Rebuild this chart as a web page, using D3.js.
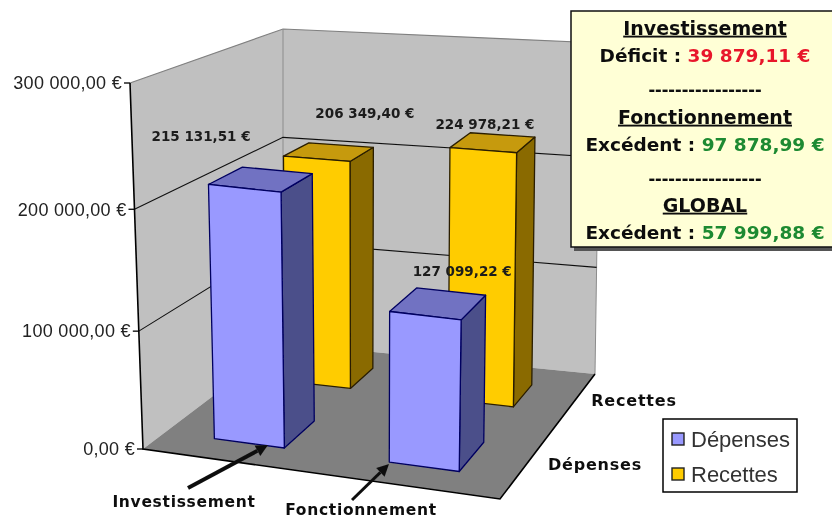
<!DOCTYPE html>
<html><head><meta charset="utf-8">
<script src="https://cdn.jsdelivr.net/npm/d3@7/dist/d3.min.js"></script>
<style>html,body{margin:0;padding:0;background:#fff}svg{display:block}</style>
</head><body><svg id="c" width="832" height="520"></svg>
<script>
const categories = ["Investissement", "Fonctionnement"];
const series = ["Dépenses", "Recettes"];
const depenses = [215131.51, 127099.22];
const recettes = [206349.40, 224978.21];
const axisTicks = [0, 100000, 200000, 300000];
const tickLabels = ["0,00 €", "100 000,00 €", "200 000,00 €", "300 000,00 €"];
const valueLabels = {"Dépenses": ["215 131,51 €", "127 099,22 €"], "Recettes": ["206 349,40 €", "224 978,21 €"]};
const summaryTitles = ["Investissement", "Fonctionnement", "GLOBAL"];
const summaryKinds = ["Déficit : ", "Excédent : ", "Excédent : "];
const summaryAmounts = ["39 879,11 €", "97 878,99 €", "57 999,88 €"];

const svg = d3.select("#c");
const defs = svg.append("defs");
defs.append("filter").attr("id", "soft").attr("x", 0).attr("y", 0).attr("width", 1).attr("height", 1)
  .append("feGaussianBlur").attr("stdDeviation", 0.45);
// cube corners [u][v][w]
const cube = {
  "000": [143, 449], "100": [500, 499], "010": [283, 343], "110": [595, 374],
  "001": [130, 83],  "101": [508, 122], "011": [283, 29],  "111": [600, 43]
};
const W = d3.scaleLinear().domain(axisTicks).range([0, .322, .655, 1]);
const U = d3.scaleBand().domain(categories).range([-.01, .99]).paddingInner(.6).paddingOuter(.3);
const Vb = d3.scaleBand().domain(series).range([0, 1]).paddingInner(.6).paddingOuter(.3);
const Vfix = d3.scaleLinear().domain([0, .15, .35, .65, .85, 1]).range([0, .16, .40, .69, .87, 1]);
function P(u, v, w) {
  const r = [0, 0];
  for (const a of [0, 1]) for (const b of [0, 1]) for (const c of [0, 1]) {
    const k = (a ? u : 1 - u) * (b ? v : 1 - v) * (c ? w : 1 - w);
    const p = cube["" + a + b + c];
    r[0] += k * p[0]; r[1] += k * p[1];
  }
  return r;
}
const line = d3.line();
const poly = pts => line(pts) + "Z";
const g = svg.append("g").attr("filter", "url(#soft)");
g.append("rect").attr("width", 832).attr("height", 520).attr("fill", "#fff");

// walls and floor
g.append("path").attr("d", poly([P(0,0,0), P(0,1,0), P(0,1,1), P(0,0,1)])).attr("fill", "#c0c0c0");
g.append("path").attr("d", poly([P(0,1,0), P(1,1,0), P(1,1,1), P(0,1,1)])).attr("fill", "#c0c0c0");
g.append("path").attr("d", poly([P(0,0,0), P(1,0,0), P(1,1,0), P(0,1,0)])).attr("fill", "#808080");
g.append("path").attr("d", line([P(0,0,1), P(0,1,1), P(1,1,1)])).attr("fill", "none").attr("stroke", "#808080").attr("stroke-width", 1.2);
g.append("path").attr("d", line([P(0,1,0), P(0,1,1)])).attr("fill", "none").attr("stroke", "#8c8c8c").attr("stroke-width", 1);
g.append("path").attr("d", line([P(1,1,0), P(1,1,1)])).attr("fill", "none").attr("stroke", "#8c8c8c").attr("stroke-width", 1);

// gridlines
axisTicks.slice(1, 3).forEach(t => {
  const w = W(t);
  g.append("path").attr("d", line([P(0,0,w), P(0,1,w), P(1,1,w)])).attr("fill", "none").attr("stroke", "#111").attr("stroke-width", 1.1);
});
// axis edges
g.append("path").attr("d", line([P(0,0,1), P(0,0,0), P(1,0,0), P(1,1,0)])).attr("fill", "none").attr("stroke", "#000").attr("stroke-width", 1.6);
axisTicks.forEach((t, i) => {
  const p = P(0, 0, W(t));
  g.append("path").attr("d", line([[p[0] - 6, p[1]], p])).attr("stroke", "#000").attr("stroke-width", 1.3);
  g.append("text").attr("x", p[0] - 8).attr("y", p[1]).attr("dy", "0.35em").attr("text-anchor", "end")
    .attr("font-family", "Liberation Sans").attr("font-size", 18).attr("letter-spacing", 0.3).attr("fill", "#222").text(tickLabels[i]);
});

// bars, back row first
const palette = {
  "Dépenses": {front: "#9999ff", side: "#4c4f8a", top: "#7172c2", edge: "#000060"},
  "Recettes": {front: "#ffcc00", side: "#8a6a00", top: "#c69a0c", edge: "#2a1e00"}
};
const barData = [];
[["Recettes", recettes], ["Dépenses", depenses]].forEach(([s, vals]) => {
  vals.forEach((v, i) => barData.push({s, c: categories[i], i, v}));
});
barData.forEach(d => {
  const u0 = U(d.c), u1 = u0 + U.bandwidth();
  const v0 = Vfix(Vb(d.s)), v1 = Vfix(Vb(d.s) + Vb.bandwidth());
  const w = W(d.v), col = palette[d.s];
  const face = (pts, fill) => g.append("path").attr("d", poly(pts)).attr("fill", fill)
    .attr("stroke", col.edge).attr("stroke-width", 1.3).attr("stroke-linejoin", "round");
  face([P(u1,v0,0), P(u1,v1,0), P(u1,v1,w), P(u1,v0,w)], col.side);
  face([P(u0,v0,w), P(u1,v0,w), P(u1,v1,w), P(u0,v1,w)], col.top);
  face([P(u0,v0,0), P(u1,v0,0), P(u1,v0,w), P(u0,v0,w)], col.front);
});

// value labels (hand-placed beside their bars, as in the original)
const labelOffset = {"Dépenses": [[-60, -43], [24, -32]], "Recettes": [[36, -39], [-8, -18]]};
barData.forEach(d => {
  const u = U(d.c) + U.bandwidth() / 2, v = Vfix(Vb(d.s) + Vb.bandwidth() / 2);
  const p = P(u, v, W(d.v)), o = labelOffset[d.s][d.i];
  g.append("text").attr("x", p[0] + o[0]).attr("y", p[1] + o[1]).attr("dy", "0.35em").attr("text-anchor", "middle")
    .attr("font-family", "DejaVu Sans").attr("font-weight", "bold").attr("font-size", 13.5).attr("fill", "#1a1a1a")
    .text(valueLabels[d.s][d.i]);
});

// series labels on the depth axis
const depthLabel = [[595, 464], [634, 400]];
series.forEach((s, i) => g.append("text").attr("x", depthLabel[i][0]).attr("y", depthLabel[i][1]).attr("dy", "0.35em")
  .attr("text-anchor", "middle").attr("font-family", "DejaVu Sans").attr("font-weight", "bold").attr("font-size", 16).attr("letter-spacing", 0.8).attr("fill", "#111").text(s));

// arrows with category labels
const catLabel = [[184, 502], [361, 510]];
const arrows = [[[188, 488], [268, 445]], [[352, 500], [389, 464]]];
const arrowW = [4, 3];
categories.forEach((c, i) => {
  const [a, b] = arrows[i];
  const ang = Math.atan2(b[1] - a[1], b[0] - a[0]), h = 12, s = 6;
  const base = [b[0] - h * Math.cos(ang), b[1] - h * Math.sin(ang)];
  g.append("path").attr("d", line([a, base])).attr("stroke", "#111").attr("stroke-width", arrowW[i]);
  g.append("path").attr("fill", "#111").attr("d", poly([b,
    [base[0] - s * Math.sin(ang), base[1] + s * Math.cos(ang)],
    [base[0] + s * Math.sin(ang), base[1] - s * Math.cos(ang)]]));
  g.append("text").attr("x", catLabel[i][0]).attr("y", catLabel[i][1]).attr("dy", "0.35em").attr("text-anchor", "middle")
    .attr("font-family", "DejaVu Sans").attr("font-weight", "bold").attr("font-size", 15.5).attr("letter-spacing", 0.7).attr("fill", "#111").text(c);
});

// legend
const lg = g.append("g").attr("transform", "translate(663,419)");
lg.append("rect").attr("width", 134).attr("height", 73).attr("fill", "#fff").attr("stroke", "#000").attr("stroke-width", 1.5);
series.forEach((s, i) => {
  const y = 20 + i * 35;
  lg.append("rect").attr("x", 9).attr("y", y - 6).attr("width", 12).attr("height", 12)
    .attr("fill", palette[s].front).attr("stroke", "#222").attr("stroke-width", 1.4);
  lg.append("text").attr("x", 28).attr("y", y).attr("dy", "0.35em").attr("font-family", "Liberation Sans")
    .attr("font-size", 22).attr("fill", "#333").text(s);
});

// summary box
const bx = 571, by = 11, cx = 705;
g.append("rect").attr("x", bx + 3).attr("y", by + 4).attr("width", 262).attr("height", 236).attr("fill", "#555");
g.append("rect").attr("x", bx).attr("y", by).attr("width", 264).attr("height", 236)
  .attr("fill", "#ffffd6").attr("stroke", "#111").attr("stroke-width", 1.5);
const txt = (y, decoration) => g.append("text").attr("x", cx).attr("y", y).attr("dy", "0.35em").attr("text-anchor", "middle")
  .attr("font-family", "DejaVu Sans").attr("font-weight", "bold").attr("font-size", 18.5).attr("fill", "#111")
  .attr("text-decoration", decoration || null);
const titleY = [28, 117, 205], rowY = [56, 145, 233], dashY = [89, 178];
const amtCol = ["#e8192c", "#1e8a30", "#1e8a30"];
summaryTitles.forEach((t, i) => {
  txt(titleY[i], "underline").attr("font-size", 19).text(t);
  const r = txt(rowY[i]);
  r.append("tspan").text(summaryKinds[i]);
  r.append("tspan").attr("fill", amtCol[i]).text(summaryAmounts[i]);
});
dashY.forEach(y => txt(y).attr("font-family", "Liberation Sans").attr("font-size", 20).text("-----------------"));
</script></body></html>
